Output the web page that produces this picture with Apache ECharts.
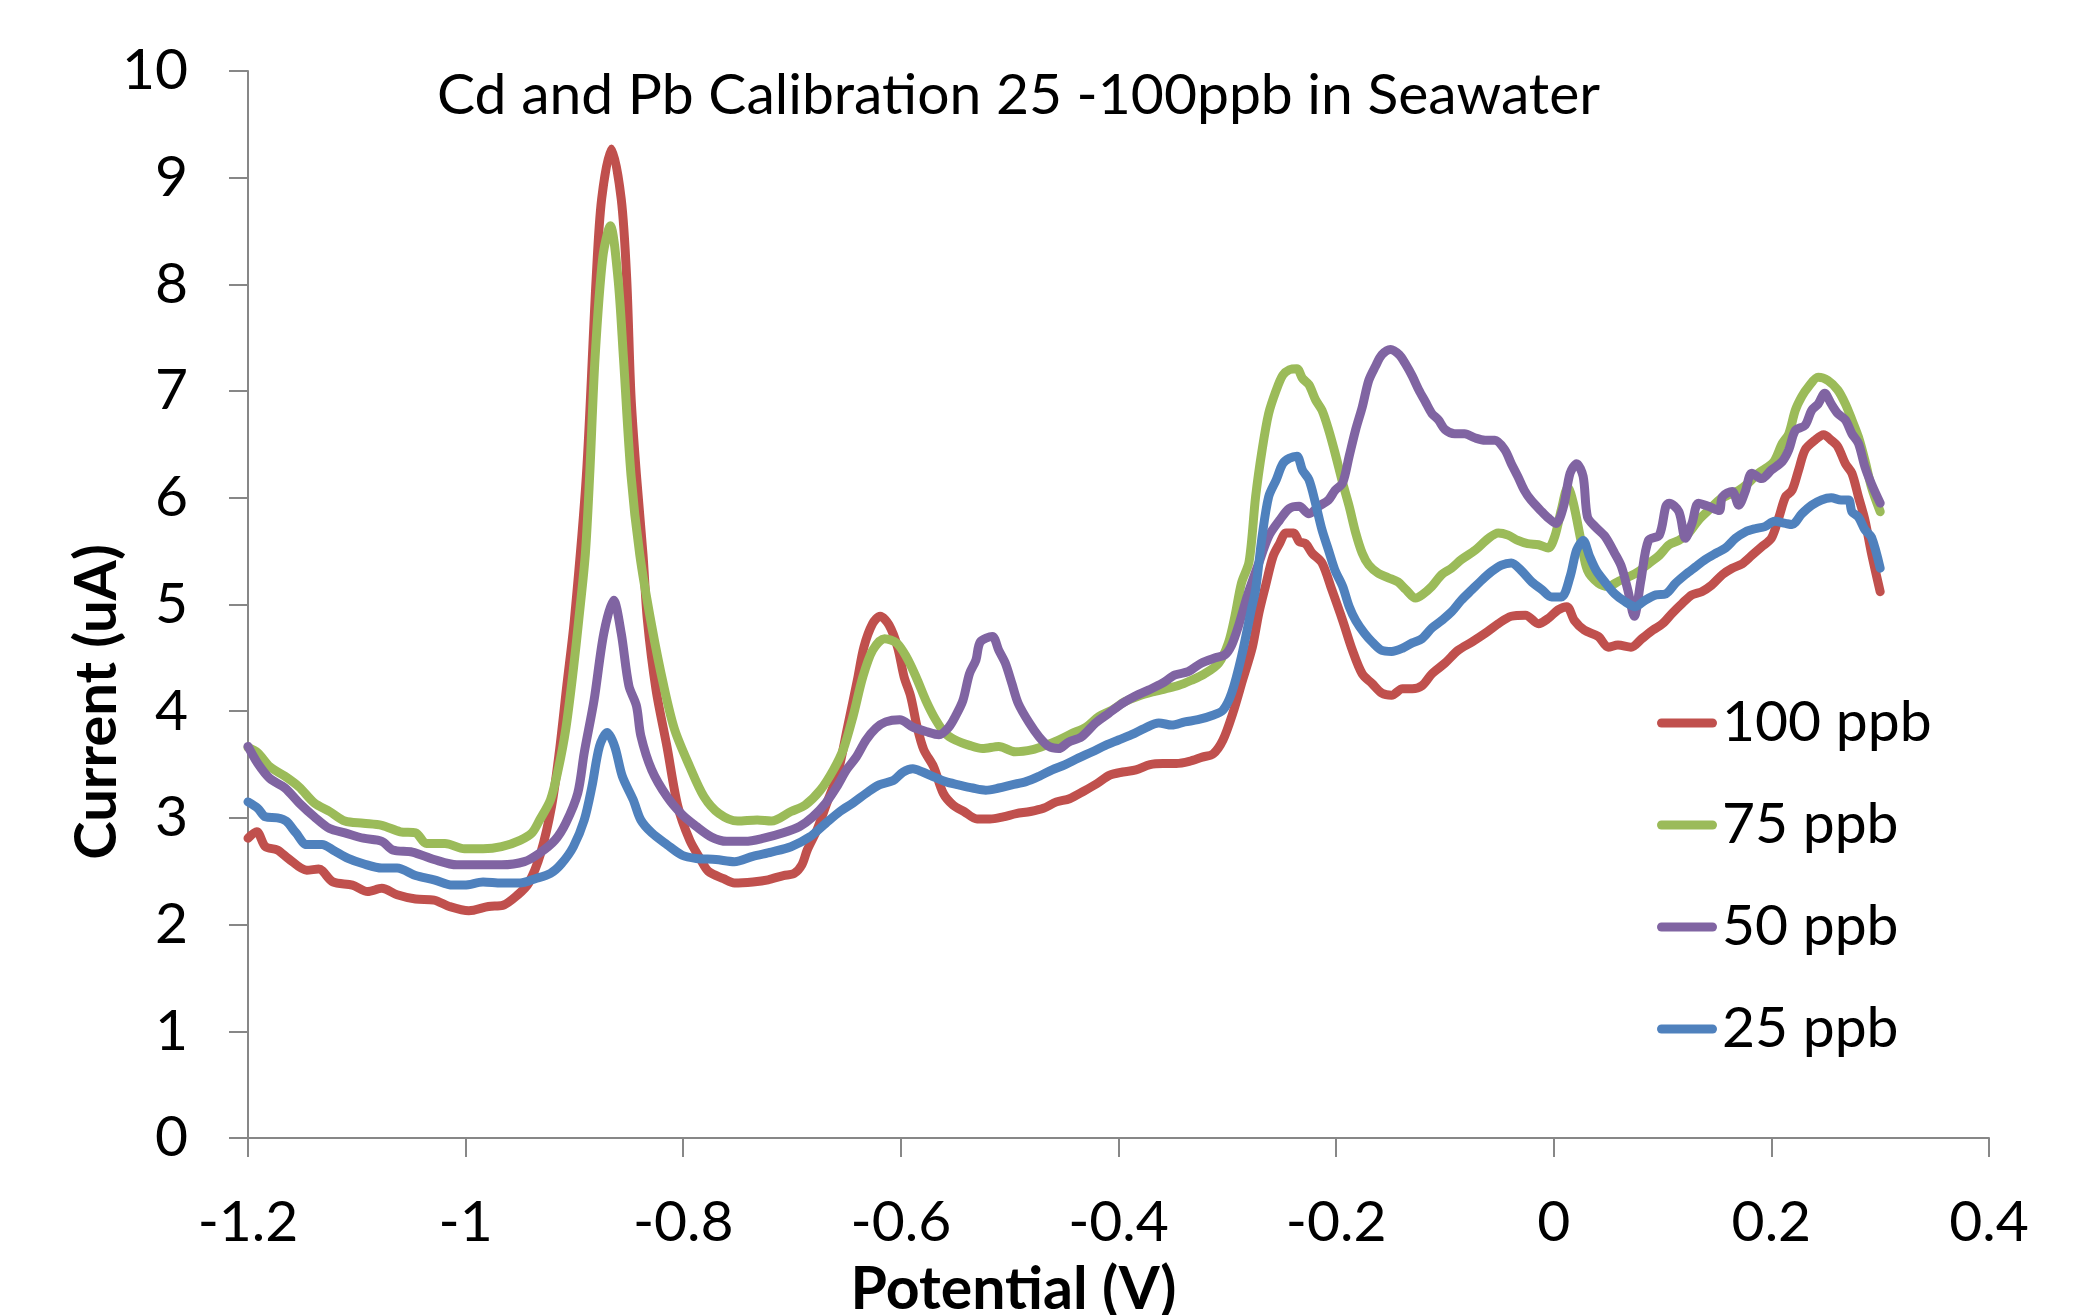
<!DOCTYPE html>
<html>
<head>
<meta charset="utf-8">
<script src="https://cdn.jsdelivr.net/npm/echarts@6/dist/echarts.min.js"></script>
<style>
html,body{margin:0;padding:0;background:#fff;}
#chart{width:2093px;height:1315px;}
</style>
</head>
<body>
<div id="chart"></div>
<script>
// ---- Data (potential in V, current in uA) ----
const seriesNames = ['100 ppb', '75 ppb', '50 ppb', '25 ppb'];
const xTicks = ['-1.2', '-1', '-0.8', '-0.6', '-0.4', '-0.2', '0', '0.2', '0.4'];

const redV = [-1.200,-1.192,-1.184,-1.173,-1.163,-1.146,-1.135,-1.122,-1.104,-1.090,-1.077,-1.063,-1.046,-1.029,-1.015,-0.997,-0.979,-0.966,-0.952,-0.942,-0.931,-0.921,-0.914,-0.907,-0.900,-0.889,-0.880,-0.875,-0.866,-0.857,-0.852,-0.848,-0.843,-0.837,-0.833,-0.825,-0.815,-0.805,-0.794,-0.784,-0.777,-0.763,-0.753,-0.736,-0.722,-0.708,-0.698,-0.691,-0.686,-0.677,-0.668,-0.658,-0.649,-0.640,-0.634,-0.626,-0.619,-0.611,-0.603,-0.597,-0.591,-0.585,-0.579,-0.570,-0.561,-0.552,-0.542,-0.530,-0.518,-0.506,-0.494,-0.481,-0.469,-0.457,-0.445,-0.432,-0.420,-0.408,-0.396,-0.384,-0.371,-0.359,-0.347,-0.335,-0.323,-0.313,-0.304,-0.295,-0.286,-0.277,-0.271,-0.265,-0.258,-0.252,-0.246,-0.239,-0.234,-0.228,-0.222,-0.213,-0.204,-0.194,-0.185,-0.176,-0.167,-0.158,-0.149,-0.139,-0.130,-0.121,-0.112,-0.100,-0.088,-0.075,-0.063,-0.051,-0.039,-0.026,-0.014,-0.005,0.004,0.012,0.019,0.028,0.041,0.050,0.059,0.071,0.081,0.091,0.100,0.109,0.118,0.127,0.136,0.145,0.155,0.164,0.173,0.182,0.191,0.200,0.207,0.213,0.219,0.225,0.231,0.240,0.248,0.255,0.261,0.268,0.274,0.280,0.286,0.292,0.300];
const redI = [2.81,2.87,2.73,2.70,2.62,2.51,2.52,2.40,2.37,2.31,2.34,2.28,2.24,2.23,2.17,2.13,2.17,2.18,2.28,2.39,2.67,3.11,3.61,4.24,4.86,6.21,8.06,8.80,9.27,8.80,8.06,6.95,6.21,5.47,4.86,4.20,3.67,3.11,2.79,2.61,2.50,2.43,2.39,2.40,2.42,2.46,2.48,2.56,2.70,2.89,3.14,3.42,3.85,4.29,4.60,4.82,4.89,4.81,4.60,4.32,4.14,3.85,3.64,3.48,3.23,3.12,3.06,2.99,2.99,3.01,3.04,3.06,3.09,3.15,3.18,3.25,3.32,3.40,3.43,3.45,3.50,3.51,3.51,3.53,3.57,3.60,3.73,3.98,4.29,4.60,4.92,5.17,5.45,5.57,5.67,5.67,5.59,5.57,5.48,5.39,5.14,4.85,4.57,4.35,4.26,4.17,4.15,4.21,4.21,4.24,4.35,4.45,4.57,4.65,4.73,4.82,4.89,4.90,4.82,4.87,4.95,4.98,4.85,4.76,4.70,4.60,4.62,4.60,4.68,4.76,4.82,4.92,5.01,5.09,5.12,5.18,5.28,5.34,5.38,5.46,5.54,5.62,5.82,6.01,6.07,6.26,6.45,6.54,6.59,6.54,6.48,6.32,6.23,6.01,5.79,5.48,5.12];

const greenV = [-1.200,-1.191,-1.180,-1.166,-1.153,-1.139,-1.125,-1.111,-1.094,-1.077,-1.060,-1.046,-1.036,-1.019,-1.001,-0.984,-0.967,-0.950,-0.939,-0.932,-0.922,-0.915,-0.908,-0.901,-0.896,-0.890,-0.886,-0.881,-0.874,-0.867,-0.860,-0.855,-0.848,-0.840,-0.829,-0.818,-0.808,-0.794,-0.781,-0.767,-0.750,-0.732,-0.719,-0.701,-0.688,-0.674,-0.662,-0.653,-0.644,-0.635,-0.626,-0.615,-0.604,-0.595,-0.586,-0.577,-0.568,-0.559,-0.550,-0.537,-0.525,-0.510,-0.495,-0.479,-0.467,-0.455,-0.443,-0.430,-0.418,-0.406,-0.394,-0.382,-0.369,-0.357,-0.345,-0.333,-0.321,-0.308,-0.299,-0.293,-0.287,-0.280,-0.274,-0.268,-0.262,-0.255,-0.249,-0.243,-0.236,-0.231,-0.225,-0.219,-0.213,-0.207,-0.201,-0.194,-0.188,-0.182,-0.176,-0.170,-0.161,-0.152,-0.143,-0.136,-0.127,-0.121,-0.112,-0.103,-0.094,-0.085,-0.072,-0.060,-0.051,-0.042,-0.033,-0.024,-0.014,-0.005,0.001,0.007,0.013,0.018,0.025,0.031,0.041,0.050,0.060,0.069,0.078,0.088,0.097,0.106,0.115,0.124,0.133,0.142,0.152,0.161,0.170,0.179,0.188,0.197,0.203,0.210,0.216,0.222,0.228,0.234,0.243,0.252,0.261,0.268,0.274,0.280,0.286,0.292,0.300];
const greenI = [3.66,3.61,3.48,3.39,3.29,3.14,3.06,2.97,2.95,2.93,2.87,2.86,2.76,2.76,2.71,2.71,2.73,2.79,2.86,2.98,3.17,3.45,3.83,4.39,4.86,5.47,6.21,7.32,8.25,8.55,8.06,7.32,6.21,5.47,4.80,4.24,3.83,3.48,3.20,3.04,2.97,2.98,2.97,3.06,3.12,3.26,3.45,3.64,3.95,4.32,4.57,4.68,4.64,4.51,4.32,4.10,3.92,3.79,3.73,3.68,3.65,3.67,3.62,3.64,3.68,3.73,3.79,3.85,3.95,4.01,4.09,4.14,4.18,4.21,4.24,4.29,4.35,4.45,4.64,4.89,5.20,5.40,6.01,6.45,6.79,7.01,7.15,7.20,7.21,7.12,7.06,6.92,6.82,6.64,6.42,6.14,5.92,5.67,5.48,5.37,5.29,5.25,5.21,5.14,5.06,5.09,5.17,5.28,5.34,5.42,5.51,5.62,5.67,5.65,5.60,5.57,5.56,5.53,5.64,5.89,6.10,5.95,5.60,5.32,5.20,5.17,5.22,5.26,5.31,5.39,5.46,5.56,5.60,5.67,5.79,5.88,5.98,6.03,6.07,6.14,6.23,6.29,6.35,6.51,6.60,6.82,6.95,7.04,7.13,7.10,7.01,6.88,6.73,6.57,6.35,6.10,5.87];

const purpleV = [-1.200,-1.191,-1.180,-1.166,-1.153,-1.139,-1.125,-1.111,-1.094,-1.077,-1.067,-1.049,-1.029,-1.008,-0.987,-0.967,-0.946,-0.932,-0.918,-0.908,-0.897,-0.891,-0.882,-0.873,-0.864,-0.857,-0.850,-0.843,-0.839,-0.829,-0.815,-0.801,-0.788,-0.774,-0.760,-0.743,-0.726,-0.708,-0.693,-0.681,-0.669,-0.659,-0.650,-0.641,-0.632,-0.623,-0.614,-0.601,-0.589,-0.577,-0.565,-0.556,-0.550,-0.543,-0.537,-0.531,-0.527,-0.516,-0.510,-0.504,-0.498,-0.492,-0.482,-0.473,-0.464,-0.455,-0.446,-0.434,-0.421,-0.409,-0.397,-0.385,-0.372,-0.360,-0.348,-0.336,-0.324,-0.311,-0.302,-0.296,-0.290,-0.281,-0.271,-0.262,-0.252,-0.243,-0.234,-0.225,-0.216,-0.207,-0.201,-0.194,-0.188,-0.182,-0.176,-0.170,-0.164,-0.158,-0.150,-0.142,-0.136,-0.130,-0.124,-0.118,-0.112,-0.106,-0.100,-0.091,-0.082,-0.072,-0.063,-0.054,-0.045,-0.039,-0.033,-0.027,-0.021,-0.011,-0.005,0.002,0.009,0.015,0.021,0.027,0.031,0.038,0.047,0.056,0.062,0.068,0.074,0.080,0.087,0.097,0.103,0.106,0.115,0.121,0.127,0.133,0.142,0.152,0.155,0.164,0.170,0.176,0.182,0.191,0.200,0.210,0.216,0.222,0.231,0.237,0.243,0.249,0.255,0.261,0.268,0.274,0.280,0.286,0.292,0.300];
const purpleI = [3.67,3.51,3.37,3.28,3.14,3.01,2.90,2.86,2.81,2.78,2.70,2.68,2.61,2.56,2.56,2.56,2.59,2.67,2.79,2.95,3.23,3.61,4.10,4.73,5.04,4.73,4.24,4.05,3.77,3.45,3.20,3.03,2.92,2.82,2.78,2.78,2.81,2.86,2.92,3.01,3.14,3.29,3.45,3.57,3.73,3.84,3.90,3.92,3.85,3.81,3.78,3.85,3.95,4.10,4.35,4.48,4.65,4.70,4.57,4.45,4.26,4.07,3.89,3.76,3.67,3.65,3.71,3.76,3.89,3.98,4.07,4.14,4.20,4.26,4.34,4.37,4.45,4.50,4.53,4.62,4.79,5.10,5.39,5.64,5.79,5.90,5.92,5.85,5.92,5.98,6.07,6.14,6.39,6.64,6.85,7.10,7.23,7.34,7.39,7.34,7.25,7.14,7.01,6.90,6.79,6.73,6.64,6.60,6.60,6.56,6.54,6.54,6.45,6.32,6.20,6.07,5.98,5.87,5.81,5.76,5.92,6.23,6.32,6.20,5.82,5.73,5.64,5.48,5.36,5.14,4.89,5.22,5.60,5.65,5.92,5.95,5.87,5.62,5.76,5.95,5.92,5.88,6.01,6.06,5.93,6.06,6.23,6.18,6.26,6.34,6.45,6.63,6.68,6.82,6.88,6.98,6.88,6.79,6.73,6.60,6.51,6.29,6.13,5.95];

const blueV = [-1.200,-1.191,-1.184,-1.173,-1.165,-1.156,-1.146,-1.132,-1.122,-1.108,-1.094,-1.077,-1.063,-1.046,-1.029,-1.012,-1.001,-0.984,-0.967,-0.950,-0.936,-0.922,-0.912,-0.901,-0.891,-0.884,-0.877,-0.870,-0.863,-0.856,-0.846,-0.839,-0.829,-0.815,-0.801,-0.788,-0.770,-0.753,-0.736,-0.719,-0.701,-0.684,-0.669,-0.656,-0.644,-0.632,-0.620,-0.607,-0.598,-0.589,-0.580,-0.571,-0.559,-0.547,-0.534,-0.522,-0.510,-0.498,-0.485,-0.473,-0.461,-0.449,-0.437,-0.424,-0.412,-0.400,-0.388,-0.376,-0.363,-0.351,-0.339,-0.327,-0.314,-0.304,-0.296,-0.287,-0.278,-0.274,-0.268,-0.262,-0.255,-0.249,-0.243,-0.236,-0.231,-0.225,-0.219,-0.213,-0.207,-0.201,-0.194,-0.188,-0.182,-0.174,-0.167,-0.158,-0.149,-0.139,-0.130,-0.121,-0.112,-0.103,-0.094,-0.085,-0.075,-0.066,-0.057,-0.048,-0.039,-0.030,-0.020,-0.011,-0.002,0.007,0.015,0.021,0.027,0.033,0.039,0.047,0.056,0.065,0.075,0.084,0.094,0.103,0.112,0.121,0.130,0.139,0.149,0.158,0.167,0.176,0.185,0.194,0.203,0.213,0.219,0.228,0.237,0.246,0.255,0.264,0.271,0.274,0.280,0.286,0.292,0.300];
const blueI = [3.15,3.09,3.01,3.00,2.97,2.86,2.75,2.75,2.70,2.62,2.57,2.53,2.53,2.46,2.42,2.37,2.37,2.40,2.39,2.39,2.43,2.48,2.57,2.73,2.98,3.29,3.67,3.80,3.67,3.39,3.17,2.98,2.86,2.75,2.65,2.62,2.61,2.59,2.64,2.68,2.73,2.82,2.95,3.06,3.14,3.23,3.31,3.35,3.43,3.46,3.43,3.39,3.34,3.31,3.28,3.26,3.28,3.31,3.34,3.39,3.45,3.50,3.56,3.62,3.68,3.73,3.78,3.84,3.89,3.87,3.90,3.92,3.96,4.01,4.17,4.51,4.95,5.14,5.64,6.01,6.17,6.32,6.37,6.39,6.26,6.17,5.95,5.70,5.51,5.32,5.17,4.98,4.85,4.73,4.65,4.57,4.56,4.59,4.64,4.68,4.78,4.85,4.93,5.04,5.14,5.23,5.31,5.37,5.39,5.32,5.21,5.14,5.07,5.07,5.26,5.51,5.60,5.45,5.32,5.21,5.10,5.03,4.98,5.04,5.09,5.10,5.20,5.28,5.35,5.42,5.48,5.53,5.62,5.68,5.71,5.73,5.78,5.76,5.75,5.85,5.93,5.98,6.00,5.98,5.98,5.87,5.82,5.70,5.63,5.34];

const colors = ['#C0504D', '#9BBB59', '#8064A2', '#4F81BD'];
const seriesV = [redV, greenV, purpleV, blueV];
const seriesI = [redI, greenI, purpleI, blueI];

const FONT = 'Lato';
const chart = echarts.init(document.getElementById('chart'), null, {renderer: 'canvas'});
const axisGray = '#878787';

const series = seriesNames.map((name, k) => ({
  name: name,
  type: 'line',
  data: seriesV[k].map((v, i) => [v, seriesI[k][i]]),
  showSymbol: false,
  symbol: 'none',
  smooth: 0.3,
  lineStyle: {color: colors[k], width: 9, cap: 'round', join: 'round'},
  itemStyle: {color: colors[k]},
  emphasis: {disabled: true},
  animation: false,
  z: 2 + k
}));

chart.setOption({
  backgroundColor: '#ffffff',
  animation: false,
  title: {
    text: 'Cd and Pb Calibration 25 -100ppb in Seawater',
    left: 432,
    top: 62,
    textStyle: {fontFamily: FONT, fontSize: 57, fontWeight: 'normal', color: '#000'}
  },
  legend: {
    orient: 'vertical',
    left: 1652,
    top: 688,
    itemWidth: 60,
    itemHeight: 9,
    itemGap: 42,
    icon: 'path://M4.5,0 L55.5,0 A4.5,4.5 0 0 1 55.5,9 L4.5,9 A4.5,4.5 0 0 1 4.5,0 Z',
    textStyle: {fontFamily: FONT, fontSize: 57, color: '#000', lineHeight: 60},
    data: seriesNames
  },
  grid: {left: 248, right: 104, top: 71, bottom: 177, containLabel: false, outerBoundsMode: 'none'},
  xAxis: {
    type: 'value',
    min: -1.2,
    max: 0.4,
    interval: 0.2,
    name: 'Potential (V)',
    nameLocation: 'middle',
    nameGap: 122,
    nameMoveOverlap: false,
    nameTextStyle: {fontFamily: FONT, fontSize: 59, fontWeight: 'bold', color: '#000', padding: [0, 210, 0, 0]},
    axisLine: {show: true, onZero: false, lineStyle: {color: axisGray, width: 2}},
    axisTick: {show: true, inside: false, length: 19, lineStyle: {color: axisGray, width: 2}},
    splitLine: {show: false},
    axisLabel: {
      fontFamily: FONT, fontSize: 57, color: '#000', margin: 56,
      formatter: function (val) {
        const idx = Math.round((val + 1.2) / 0.2);
        return xTicks[idx] !== undefined ? xTicks[idx] : String(val);
      }
    }
  },
  yAxis: {
    type: 'value',
    min: 0,
    max: 10,
    interval: 1,
    name: 'Current (uA)',
    nameLocation: 'middle',
    nameGap: 122,
    nameMoveOverlap: false,
    nameTextStyle: {fontFamily: FONT, fontSize: 58, fontWeight: 'bold', color: '#000', padding: [0, 195, 0, 0]},
    axisLine: {show: true, onZero: false, lineStyle: {color: axisGray, width: 2}},
    axisTick: {show: true, inside: false, length: 19, lineStyle: {color: axisGray, width: 2}},
    splitLine: {show: false},
    axisLabel: {fontFamily: FONT, fontSize: 57, color: '#000', margin: 60}
  },
  series: series
});
</script>
</body>
</html>
